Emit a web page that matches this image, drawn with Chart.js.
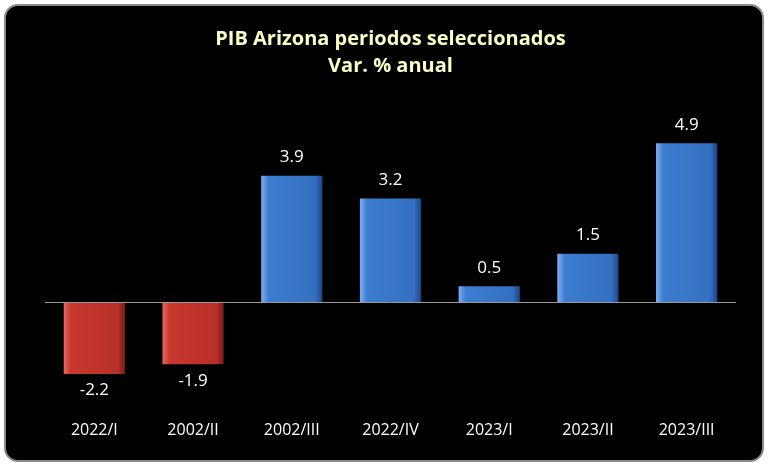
<!DOCTYPE html>
<html lang="es">
<head>
<meta charset="UTF-8">
<title>PIB Arizona</title>
<script src="https://cdn.jsdelivr.net/npm/chart.js"></script>
<style>
  body { margin: 0; background: #fff; }
  #box { position: absolute; left: 4px; top: 4px; width: 756px; height: 454px;
         background: #000; border: 2px solid #8a8a8a; border-radius: 14px; overflow: hidden; }
</style>
</head>
<body>
<div id="box"><canvas id="pibChart" width="756" height="454"></canvas></div>
<script>
const categories = ['2022/I', '2002/II', '2002/III', '2022/IV', '2023/I', '2023/II', '2023/III'];
const values = [-2.2, -1.9, 3.9, 3.2, 0.5, 1.5, 4.9];
const titleLines = ['PIB Arizona periodos seleccionados', 'Var. % anual'];

// horizontal bevel shading, built once the chart area is known
function barFill(ctx) {
    const chart = ctx.chart;
    const neg = values[ctx.dataIndex] < 0;
    const area = chart.chartArea;
    if (!area) return neg ? '#c0392f' : '#3a78c8';
    const step = (area.right - area.left) / categories.length;
    const cx = area.left + step * (ctx.dataIndex + 0.5);
    const w = step * 0.62;
    const g = chart.ctx.createLinearGradient(cx - w / 2, 0, cx + w / 2, 0);
    if (neg) {
        g.addColorStop(0, '#e06a60'); g.addColorStop(0.12, '#c8372c');
        g.addColorStop(0.88, '#b8302a'); g.addColorStop(1, '#7a1a16');
    } else {
        g.addColorStop(0, '#7fb0f0'); g.addColorStop(0.12, '#3d7dd0');
        g.addColorStop(0.88, '#3470c0'); g.addColorStop(1, '#1c4688');
    }
    return g;
}

const valueLabels = {
    id: 'valueLabels',
    afterDatasetsDraw(chart) {
        const ctx = chart.ctx;
        const meta = chart.getDatasetMeta(0);
        ctx.save();
        ctx.fillStyle = '#ffffff';
        ctx.font = '17px "Open Sans", sans-serif';
        ctx.textAlign = 'center';
        meta.data.forEach((bar, i) => {
            const v = values[i];
            if (v >= 0) { ctx.textBaseline = 'bottom'; ctx.fillText(v.toFixed(1), bar.x, bar.y - 10); }
            else { ctx.textBaseline = 'top'; ctx.fillText(v.toFixed(1), bar.x, bar.y + 8); }
        });
        ctx.restore();
    }
};

new Chart(document.getElementById('pibChart').getContext('2d'), {
    type: 'bar',
    data: {
        labels: categories,
        datasets: [{
            data: values,
            backgroundColor: barFill,
            borderWidth: 0,
            categoryPercentage: 0.62,
            barPercentage: 1
        }]
    },
    options: {
        responsive: false,
        animation: false,
        layout: { padding: { left: 39, right: 26, top: 10, bottom: 17 } },
        plugins: {
            legend: { display: false },
            tooltip: { enabled: false },
            title: {
                display: true,
                text: titleLines,
                color: '#ffffc8',
                font: { family: '"Open Sans", sans-serif', size: 20, weight: 'bold', lineHeight: 1.35 },
                padding: { top: 10, bottom: 21 }
            }
        },
        scales: {
            x: {
                grid: { display: false },
                border: { display: false },
                ticks: { color: '#ffffff', font: { family: '"Open Sans", sans-serif', size: 16 }, padding: 3 }
            },
            y: {
                min: -3.3,
                max: 6.2,
                ticks: { display: false, stepSize: 0.1 },
                border: { display: false },
                grid: {
                    drawTicks: false,
                    color: c => Math.abs(c.tick.value) < 1e-9 ? '#9a9a9a' : 'transparent',
                    lineWidth: 1
                }
            }
        }
    },
    plugins: [valueLabels]
});
</script>
</body>
</html>
